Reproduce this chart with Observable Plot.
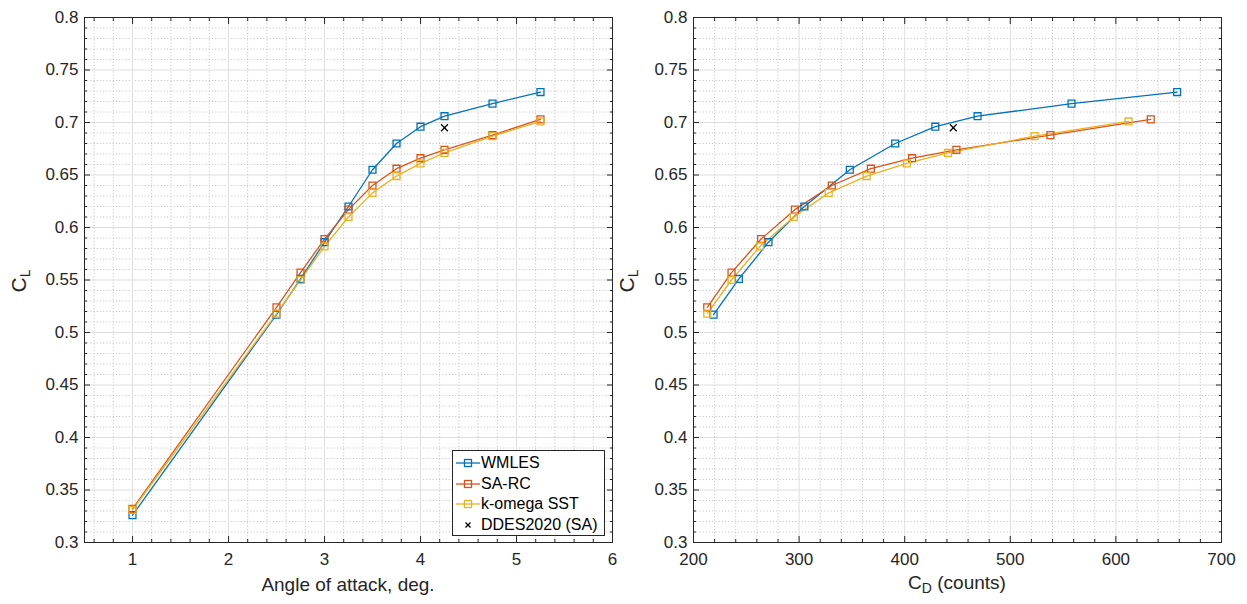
<!DOCTYPE html>
<html><head><meta charset="utf-8">
<script src="https://cdn.jsdelivr.net/npm/d3@7"></script>
<script src="https://cdn.jsdelivr.net/npm/@observablehq/plot@0.6"></script>
<style>
body{margin:0;background:#fff;font-family:"Liberation Sans",Arial,Helvetica,sans-serif;}
#wrap{position:relative;width:1247px;height:604px;overflow:hidden;}
.panel{position:absolute;top:0;}
.lbl{position:absolute;color:#262626;font-size:19px;white-space:nowrap;line-height:22px;}
.ylbl{position:absolute;color:#262626;font-size:21px;white-space:nowrap;transform:translate(-50%,-50%) rotate(-90deg);line-height:24px;}
sub{font-size:14px;vertical-align:-4px;}
#legend{position:absolute;left:452px;top:450px;width:153px;height:86px;border:1px solid #262626;background:#fff;font-size:16px;color:#000;box-sizing:border-box;}
#legend .row{position:absolute;left:0;height:20px;line-height:20px;}
#legend svg{position:absolute;left:2px;top:0;}
#legend span{position:absolute;left:28px;top:0;}
</style></head><body><div id="wrap"></div>
<script>
// ---- data ----
const seriesNames = ["WMLES", "SA-RC", "k-omega SST"];
const seriesColors = ["#0072BD", "#D95319", "#EDB120"];
const alpha = [1, 2.5, 2.75, 3, 3.25, 3.5, 3.75, 4, 4.25, 4.75, 5.25];
const clWMLES = [0.326, 0.517, 0.551, 0.586, 0.620, 0.655, 0.680, 0.696, 0.706, 0.718, 0.729];
const clSARC  = [0.332, 0.524, 0.557, 0.589, 0.617, 0.640, 0.656, 0.666, 0.674, 0.688, 0.703];
const clSST   = [0.331, 0.518, 0.550, 0.582, 0.610, 0.633, 0.649, 0.661, 0.671, 0.687, 0.701];
// drag (counts) for alpha = 2.5 ... 5.25
const cdWMLES = [219, 243, 271, 305, 348, 391, 429, 469, 558, 658];
const cdSARC  = [213, 236, 264, 296, 331, 368, 407, 449, 538, 633];
const cdSST   = [213, 236, 263, 295, 328, 364, 402, 441, 523, 612];
const ddesName = "DDES2020 (SA)";
const ddesAlpha = [4.25];
const ddesCL = [0.695];
const ddesCD = [446];
const yTicks = [0.3, 0.35, 0.4, 0.45, 0.5, 0.55, 0.6, 0.65, 0.7, 0.75, 0.8];
const xTicksLeft = [1, 2, 3, 4, 5, 6];
const xTicksRight = [200, 300, 400, 500, 600, 700];

// ---- tables ----
const cls = [clWMLES, clSARC, clSST];
const cds = [cdWMLES, cdSARC, cdSST];
const leftRows = [], rightRows = [];
seriesNames.forEach((s, i) => {
  alpha.forEach((a, j) => leftRows.push({series: s, x: a, cl: cls[i][j]}));
  cds[i].forEach((c, j) => rightRows.push({series: s, x: c, cl: cls[i][j + 1]}));
});
const leftDdes = ddesAlpha.map((a, i) => ({x: a, cl: ddesCL[i]}));
const rightDdes = ddesCD.map((c, i) => ({x: c, cl: ddesCL[i]}));

const yMinor = d3.range(0.31, 0.7999, 0.01).map(v => +v.toFixed(2)).filter(v => !yTicks.includes(v));
const xMinorLeft = d3.range(0.6, 5.999, 0.2).map(v => +v.toFixed(1)).filter(v => !xTicksLeft.includes(v));
const xMinorRight = d3.range(220, 699, 20).filter(v => !xTicksRight.includes(v));

const font = '"Liberation Sans", Arial, Helvetica, sans-serif';
function panel({rows, ddes, xDomain, xTicks, xMinor, width, marginLeft, marginRight}) {
  const ink = "#262626";
  return Plot.plot({
    width, height: 604, marginTop: 17, marginBottom: 62, marginLeft, marginRight,
    style: {fontFamily: font, fontSize: "17px", color: ink, background: "white", overflow: "visible"},
    x: {domain: xDomain, label: null},
    y: {domain: [0.3, 0.8], label: null},
    color: {domain: seriesNames, range: seriesColors},
    marks: [
      Plot.gridX(xMinor, {stroke: "#bdbdbd", strokeOpacity: 1, strokeDasharray: "1,2.2"}),
      Plot.gridY(yMinor, {stroke: "#bdbdbd", strokeOpacity: 1, strokeDasharray: "1,2.2"}),
      Plot.gridX(xTicks, {stroke: "#dedede", strokeOpacity: 1}),
      Plot.gridY(yTicks, {stroke: "#dedede", strokeOpacity: 1}),
      Plot.line(rows, {x: "x", y: "cl", z: "series", stroke: "series", strokeWidth: 1.3}),
      Plot.dot(rows, {x: "x", y: "cl", stroke: "series", symbol: "square", r: 3.9, fill: "none", strokeWidth: 1.3}),
      Plot.dot(ddes, {x: "x", y: "cl", stroke: "black", symbol: "times", r: 3.2, strokeWidth: 1.3}),
      Plot.axisX({ticks: xMinor, anchor: "bottom", tickSize: -3, tickFormat: () => "", label: null, stroke: ink}),
      Plot.axisX({ticks: xMinor, anchor: "top", tickSize: -3, tickFormat: () => "", label: null, stroke: ink}),
      Plot.axisX({ticks: xTicks, anchor: "bottom", tickSize: -6, tickPadding: 16, tickFormat: d => String(d), label: null, stroke: ink, fill: ink}),
      Plot.axisX({ticks: xTicks, anchor: "top", tickSize: -6, tickFormat: () => "", label: null, stroke: ink}),
      Plot.axisY({ticks: yMinor, anchor: "left", tickSize: -3, tickFormat: () => "", label: null, stroke: ink}),
      Plot.axisY({ticks: yMinor, anchor: "right", tickSize: -3, tickFormat: () => "", label: null, stroke: ink}),
      Plot.axisY({ticks: yTicks, anchor: "left", tickSize: -6, tickPadding: 12, tickFormat: d => String(d), label: null, stroke: ink, fill: ink}),
      Plot.axisY({ticks: yTicks, anchor: "right", tickSize: -6, tickFormat: () => "", label: null, stroke: ink}),
      Plot.frame({stroke: ink, strokeWidth: 1})
    ]
  });
}

const wrap = document.getElementById("wrap");
const left = panel({rows: leftRows, ddes: leftDdes, xDomain: [0.5, 6], xTicks: xTicksLeft, xMinor: xMinorLeft, width: 623, marginLeft: 84, marginRight: 11});
left.classList.add("panel"); left.style.left = "0px";
wrap.appendChild(left);
const right = panel({rows: rightRows, ddes: rightDdes, xDomain: [200, 700], xTicks: xTicksRight, xMinor: xMinorRight, width: 624, marginLeft: 70, marginRight: 26});
right.classList.add("panel"); right.style.left = "623px";
wrap.appendChild(right);

function addHTML(html) { wrap.insertAdjacentHTML("beforeend", html); }
addHTML(`<div class="lbl" style="left:348px;top:574px;transform:translateX(-50%)">Angle of attack, deg.</div>`);
addHTML(`<div class="lbl" style="left:957px;top:572px;transform:translateX(-50%)">C<sub>D</sub> (counts)</div>`);
addHTML(`<div class="ylbl" style="left:22px;top:281px">C<sub>L</sub></div>`);
addHTML(`<div class="ylbl" style="left:630px;top:281px">C<sub>L</sub></div>`);

// legend
let lg = `<div id="legend">`;
seriesNames.forEach((s, i) => {
  lg += `<div class="row" style="top:${2 + i * 20.7}px;width:150px"><svg width="26" height="20"><line x1="1" x2="25" y1="10" y2="10" stroke="${seriesColors[i]}" stroke-width="1.3"/><rect x="9.5" y="6.5" width="7" height="7" fill="none" stroke="${seriesColors[i]}" stroke-width="1.3"/></svg><span>${s}</span></div>`;
});
lg += `<div class="row" style="top:${2 + 3 * 20.7}px;width:150px"><svg width="26" height="20"><path d="M10.5,7.5L15.5,12.5M15.5,7.5L10.5,12.5" stroke="black" stroke-width="1.3"/></svg><span>${ddesName}</span></div>`;
lg += `</div>`;
addHTML(lg);
</script></body></html>
